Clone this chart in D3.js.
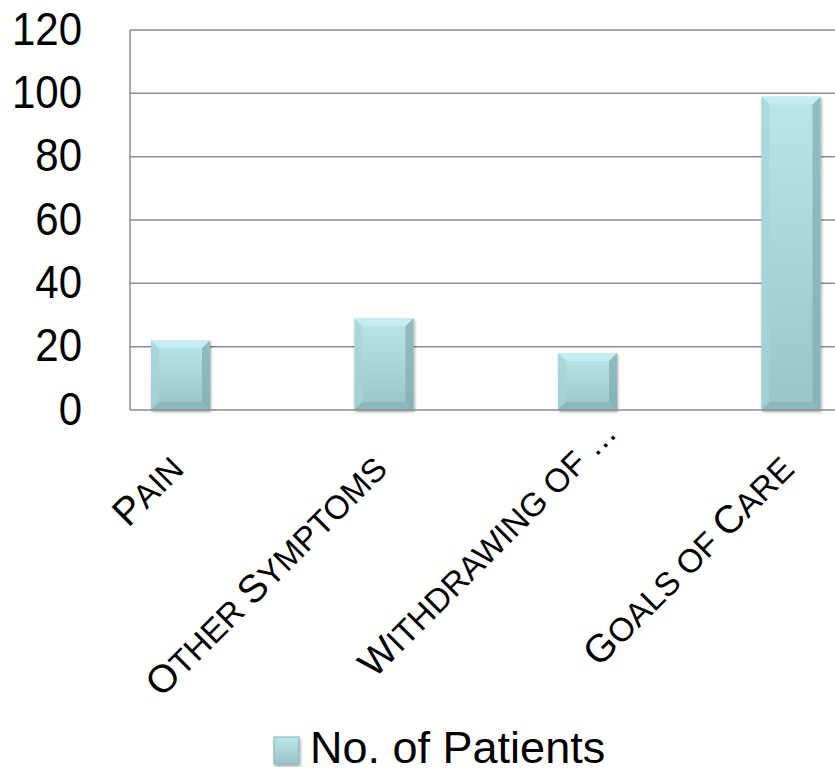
<!DOCTYPE html>
<html><head><meta charset="utf-8">
<script src="https://cdn.jsdelivr.net/npm/d3@7"></script>
<style>body{margin:0;background:#fff}svg{display:block}text{font-family:"Liberation Sans",Arial,sans-serif}</style>
</head><body>
<svg id="c" width="835" height="773"></svg>
<script>
const categories = [
  [["P",1],["AIN",0]],
  [["O",1],["THER ",0],["S",1],["YMPTOMS",0]],
  [["W",1],["ITHDRAWING OF \u2026",0]],
  [["G",1],["OALS OF ",0],["C",1],["ARE",0]]
];
const categoryKeys = ["Pain","Other Symptoms","Withdrawing of …","Goals of Care"];
const values = [22, 29, 18, 99];
const yTicks = [0, 20, 40, 60, 80, 100, 120];
const seriesName = "No. of Patients";

const svg = d3.select("#c");
const L = 130, R = 835, T = 30, B = 410;
const y = d3.scaleLinear().domain([0, 120]).range([B, T]);
const x = d3.scalePoint().domain(categoryKeys).range([180.5, 791]);
const bw = 59;

const defs = svg.append("defs");
const g1 = defs.append("linearGradient").attr("id","bar").attr("x1",0).attr("y1",0).attr("x2",0).attr("y2",1);
g1.append("stop").attr("offset","0%").attr("stop-color","#b9e6ea");
g1.append("stop").attr("offset","100%").attr("stop-color","#97c5c9");
const f = defs.append("filter").attr("id","sh").attr("x","-20%").attr("y","-5%").attr("width","140%").attr("height","115%");
f.append("feGaussianBlur").attr("in","SourceAlpha").attr("stdDeviation",1.5);
f.append("feOffset").attr("dx",1).attr("dy",1.5).attr("result","b");
f.append("feComponentTransfer").append("feFuncA").attr("type","linear").attr("slope",0.35);
const m = f.append("feMerge"); m.append("feMergeNode"); m.append("feMergeNode").attr("in","SourceGraphic");

// gridlines
svg.append("g").selectAll("line").data(yTicks.filter(d=>d>0)).join("line")
  .attr("x1",L).attr("x2",R).attr("y1",d=>y(d)).attr("y2",d=>y(d))
  .attr("stroke","#8c8c8c").attr("stroke-width",1.5);

// bars
const bars = svg.append("g").selectAll("g").data(values).join("g")
  .attr("filter","url(#sh)");
bars.each(function(v,i){
  const gx = x(categoryKeys[i]) - bw/2, gy = y(v), h = y(0) - y(v), e = 8;
  const s = d3.select(this);
  s.append("rect").attr("x",gx).attr("y",gy).attr("width",bw).attr("height",h).attr("fill","url(#bar)");
  const P = (pts)=>pts.map(p=>p.join(",")).join(" ");
  const x0=gx,x1=gx+bw,y0=gy,y1=gy+h;
  s.append("polygon").attr("points",P([[x0,y0],[x1,y0],[x1-e,y0+e],[x0+e,y0+e]])).attr("fill","#c9eff2").attr("opacity",0.8);
  s.append("polygon").attr("points",P([[x0,y0],[x0+e,y0+e],[x0+e,y1-e],[x0,y1]])).attr("fill","#a5d3d7").attr("opacity",0.7);
  s.append("polygon").attr("points",P([[x1,y0],[x1,y1],[x1-e,y1-e],[x1-e,y0+e]])).attr("fill","#7fabaf").attr("opacity",0.7);
  s.append("polygon").attr("points",P([[x0,y1],[x0+e,y1-e],[x1-e,y1-e],[x1,y1]])).attr("fill","#86b2b6").attr("opacity",0.7);
});

// axes lines
svg.append("line").attr("x1",L).attr("x2",L).attr("y1",T).attr("y2",B).attr("stroke","#8c8c8c").attr("stroke-width",1.5);
svg.append("line").attr("x1",L).attr("x2",R).attr("y1",B).attr("y2",B).attr("stroke","#8c8c8c").attr("stroke-width",1.5);

// y tick labels
svg.append("g").selectAll("text").data(yTicks).join("text")
  .attr("transform",d=>`translate(82,${y(d)-2}) scale(1,1.1)`)
  .attr("dy","0.36em").attr("text-anchor","end")
  .attr("font-size",42).attr("fill","#000").text(d=>d);

// category labels
const big = 39, small = 33;
svg.append("g").selectAll("text").data(categories).join("text")
  .attr("text-anchor","end")
  .attr("transform",(d,i)=>{
    const trunc = categoryKeys[i].endsWith("…");
    const ax = x(categoryKeys[i]) + 5 + (trunc ? 26 : 0);
    const ay = 471 - (trunc ? 36 : 0);
    return `translate(${ax},${ay}) rotate(-45)`;
  })
  .each(function(parts){
    d3.select(this).selectAll("tspan").data(parts).join("tspan")
      .attr("font-size",p=>p[1]?big:small).text(p=>p[0]);
  });

// legend
const lg = svg.append("g").attr("filter","url(#sh)");
lg.append("rect").attr("x",274).attr("y",737).attr("width",25).attr("height",27).attr("fill","url(#bar)").attr("stroke","#86b2b6").attr("stroke-width",1);
svg.append("text").attr("x",310).attr("y",763).attr("font-size",45).attr("fill","#000").text(seriesName);
</script>
</body></html>
